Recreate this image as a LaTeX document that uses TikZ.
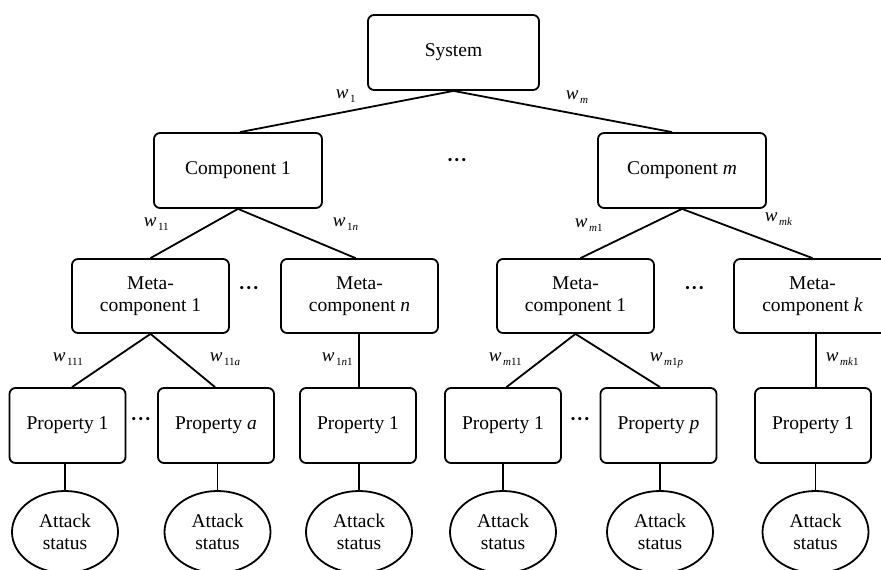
\documentclass[tikz,border=0pt]{standalone}
\usepackage{fontspec}
\setmainfont{Liberation Serif}
\usetikzlibrary{shapes.geometric}
\newcommand\wlab[1]{\textit{w}\hspace{1.5pt}\raisebox{-4.5pt}{\fontsize{11}{11}\selectfont #1}}
\newcommand\mydots{\textbf{\char"00B7\kern0.5pt\char"00B7\kern0.5pt\char"00B7}}
\begin{document}
\begin{tikzpicture}[x=1pt,y=-1pt,
  line width=1.8pt,
  box/.style={draw,rounded corners=6pt,inner sep=0pt,align=center,
    font=\fontsize{19.5}{21.5}\selectfont},
  sysbox/.style={box,minimum width=171pt,minimum height=75pt},
  compbox/.style={box,minimum width=168pt,minimum height=75pt},
  metabox/.style={box,minimum width=157pt,minimum height=74pt},
  propbox/.style={box,minimum width=116pt,minimum height=75pt},
  attack/.style={draw,ellipse,inner sep=0pt,minimum width=106pt,minimum height=82pt,
    align=center,font=\fontsize{19.5}{21.5}\selectfont},
  wl/.style={anchor=base west,inner sep=0pt,font=\fontsize{19}{19}\selectfont},
  dots/.style={inner sep=0pt,font=\fontsize{19.5}{21.5}\selectfont}]
\useasboundingbox (0,0) rectangle (881,570);
\clip (0,0) rectangle (881,570);

% top levels
\node[sysbox] (sys) at (453.5,52.5) {System};
\node[compbox] (c1) at (238,170.5) {Component 1};
\node[compbox] (cm) at (682,170.5) {Component \textit{m}};
\node[dots] (d0) at (457,162) {\mydots};

% meta-components
\node[metabox] (m11) at (150.5,296) {Meta-\\component 1};
\node[metabox] (m1n) at (359.5,296) {Meta-\\component \textit{n}};
\node[metabox] (mm1) at (575.5,296) {Meta-\\component 1};
\node[metabox] (mmk) at (812.5,296) {Meta-\\component \textit{k}};
\node[dots] (d1) at (249,290) {\mydots};
\node[dots] (d2) at (694.5,290) {\mydots};

% properties
\node[propbox] (p1) at (67.5,425.5) {Property 1};
\node[propbox] (p2) at (216,425.5) {Property \textit{a}};
\node[propbox] (p3) at (358,425.5) {Property 1};
\node[propbox] (p4) at (503,425.5) {Property 1};
\node[propbox] (p5) at (658.5,425.5) {Property \textit{p}};
\node[propbox] (p6) at (813,425.5) {Property 1};
\node[dots] (d3) at (141,421) {\mydots};
\node[dots] (d4) at (580,421) {\mydots};

% attack status leaves
\foreach \i/\x in {1/65,2/217.5,3/359,4/503,5/660,6/815.5}
  \node[attack] (a\i) at (\x,532) {Attack\\status};

% connectors
\draw (sys.south) -- ([xshift=2pt]c1.north);
\draw (sys.south) -- ([xshift=-10pt]cm.north);
\draw (c1.south) -- (m11.north);
\draw (c1.south) -- ([xshift=-4pt]m1n.north);
\draw (cm.south) -- ([xshift=5pt]mm1.north);
\draw (cm.south) -- (mmk.north);
\draw (m11.south) -- ([xshift=4.5pt]p1.north);
\draw (m11.south) -- ([xshift=-1pt]p2.north);
\draw ([xshift=-0.5pt]m1n.south) -- ([xshift=1pt]p3.north);
\draw (mm1.south) -- ([xshift=3.5pt]p4.north);
\draw (mm1.south) -- ([xshift=1.5pt]p5.north);
\draw ([xshift=3.5pt]mmk.south) -- ([xshift=3pt]p6.north);
\foreach \i in {1,...,6}
  \draw (a\i.north) -- (a\i.north |- p\i.south);

% weight labels
\node[wl] (w1) at (335,98) {\wlab{1}};
\node[wl] (wm) at (565,99) {\wlab{\textit{m}}};
\node[wl] (w11) at (143,226) {\wlab{11}};
\node[wl] (w1n) at (332,226) {\wlab{1\textit{n}}};
\node[wl] (wm1) at (574,227) {\wlab{\textit{m}1}};
\node[wl] (wmk) at (764,221) {\wlab{\textit{mk}}};
\node[wl] (w111) at (52,361) {\wlab{111}};
\node[wl] (w11a) at (209,361) {\wlab{11\textit{a}}};
\node[wl] (w1n1) at (321,361) {\wlab{1\textit{n}1}};
\node[wl] (wm11) at (488,361) {\wlab{\textit{m}11}};
\node[wl] (wm1p) at (649,361) {\wlab{\textit{m}1\textit{p}}};
\node[wl] (wmk1) at (825,361) {\wlab{\textit{mk}1}};
\end{tikzpicture}
\end{document}
